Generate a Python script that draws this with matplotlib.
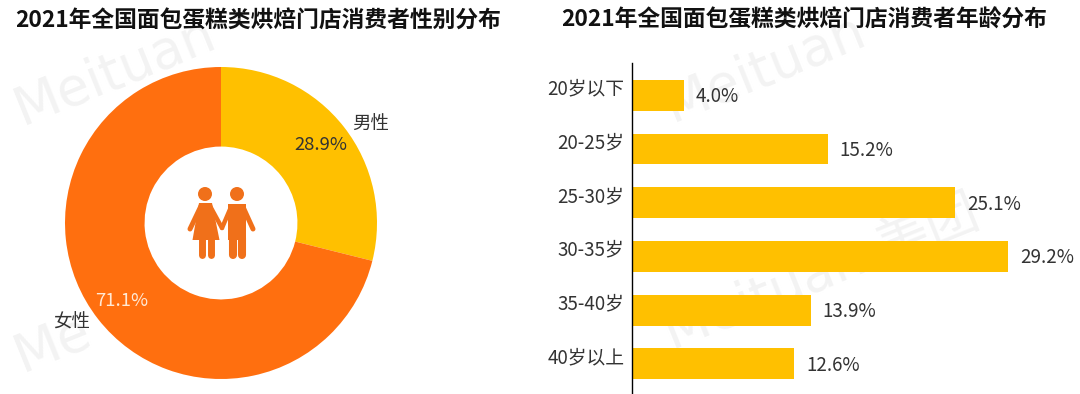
import matplotlib.pyplot as plt
from matplotlib.patches import Circle, Polygon

plt.rcParams['font.family'] = ['Noto Sans CJK SC', 'DejaVu Sans']

W, H = 1080, 394

gender_labels = ['男性', '女性']
gender_values = [28.9, 71.1]
gender_colors = ['#FFC000', '#FF6F0F']

age_labels = ['20岁以下', '20-25岁', '25-30岁', '30-35岁', '35-40岁', '40岁以上']
age_values = [4.0, 15.2, 25.1, 29.2, 13.9, 12.6]

title_left = '2021年全国面包蛋糕类烘焙门店消费者性别分布'
title_right = '2021年全国面包蛋糕类烘焙门店消费者年龄分布'

TEXT = '#333333'

def px_axes(fig, x0, y0, x1, y1, **kw):
	# pixel box, y measured from the top of the image
	return fig.add_axes([x0/W, 1-y1/H, (x1-x0)/W, (y1-y0)/H], **kw)

fig = plt.figure(figsize=(W/100, H/100), dpi=100, facecolor='white')

# background layer: faint watermark
bg = px_axes(fig, 0, 0, W, H, zorder=0)
bg.set_xlim(0, W)
bg.set_ylim(H, 0)
bg.axis('off')
marks = [(22, 125, 'Meituan'), (22, 372, 'Me'),
         (672, 122, 'Meituan'), (672, 350, 'Meituan 美团')]
for x, y, s in marks:
	bg.text(x, y, s, fontsize=38, color='#F3F3F3', rotation=22,
	        family=['DejaVu Sans', 'Noto Sans CJK SC'],
	        rotation_mode='anchor', ha='left', va='baseline')

# donut
ax1 = px_axes(fig, 65, 67, 377, 379, zorder=1)
wedges, texts, pcts = ax1.pie(gender_values, labels=gender_labels, colors=gender_colors,
                              startangle=90, counterclock=False, radius=1,
                              wedgeprops=dict(width=0.51),
                              labeldistance=1.15, autopct='%.1f%%', pctdistance=0.81,
                              textprops=dict(fontsize=13.3, color=TEXT))
ax1.set_xlim(-1, 1)
ax1.set_ylim(-1, 1)
texts[0].set_position((0.96, 0.63))
texts[1].set_position((-0.96, -0.635))
for t in texts:
	t.set_ha('center')
	t.set_va('center')
pcts[1].set_color('#FFE9D6')

# couple icon in the donut hole
ic = px_axes(fig, 0, 0, W, H, zorder=2)
ic.set_xlim(0, W)
ic.set_ylim(H, 0)
ic.axis('off')
ORANGE = '#F0701A'
ic.add_patch(Circle((205, 194), 7, color=ORANGE, lw=0))
ic.add_patch(Circle((237, 194), 7, color=ORANGE, lw=0))
ic.add_patch(Polygon([(199, 203), (212, 203), (219.5, 240), (192.5, 240)], color=ORANGE, lw=0))
ic.add_patch(Polygon([(228, 204), (246, 204), (246, 240), (228, 240)], color=ORANGE, lw=0))
for a, b, lw in [((201, 206), (190, 229), 3.6), ((210, 206), (222, 228), 3.2),
                 ((231, 207), (222, 228), 3.2), ((243, 207), (253, 229), 3.6),
                 ((201.5, 238), (201.5, 255), 5), ((210.5, 238), (210.5, 255), 5),
                 ((232.5, 238), (232.5, 255), 5.8), ((241.5, 238), (241.5, 255), 5.8)]:
	ic.plot([a[0], b[0]], [a[1], b[1]], color=ORANGE, lw=lw, solid_capstyle='round')

# bars
ax2 = px_axes(fig, 632, 63, 1080, 393, zorder=1)
ax2.patch.set_alpha(0)
pos = list(range(len(age_values)))
ax2.barh(pos, age_values, height=0.576, color='#FFC000')
ax2.set_xlim(0, 448/12.88)
ax2.set_ylim(5.54, -0.6)
ax2.set_xticks([])
ax2.set_yticks([])
for side in ['top', 'right', 'bottom']:
	ax2.spines[side].set_visible(False)
ax2.spines['left'].set_linewidth(1)
ax2.spines['left'].set_color('black')
for i, v in zip(pos, age_values):
	ax2.annotate('%.1f%%' % v, (v, i), xytext=(8.5, -1), textcoords='offset points',
	             ha='left', va='center', fontsize=13.5, color=TEXT)
	ax2.annotate(age_labels[i], (0, i), xytext=(-5.5, 4.5), textcoords='offset points',
	             ha='right', va='center', fontsize=13.5, color=TEXT)

fig.text(15/W, 1-20/H, title_left, fontsize=16.4, fontweight='bold', color='#111111', va='center', ha='left')
fig.text(561/W, 1-20/H, title_right, fontsize=16.4, fontweight='bold', color='#111111', va='center', ha='left')

plt.savefig('out.png', dpi=100)
